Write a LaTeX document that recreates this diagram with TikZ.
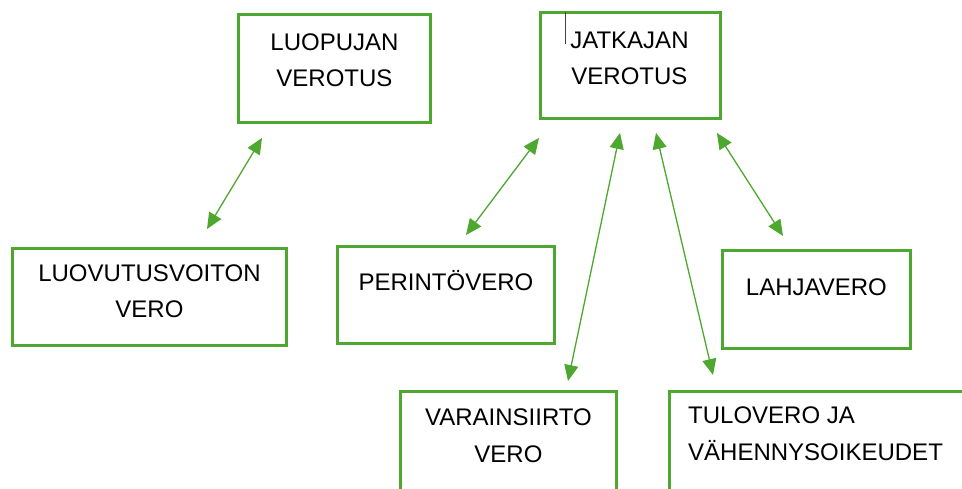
\documentclass[tikz,border=0pt]{standalone}
\usepackage{fontspec}
\setmainfont{Liberation Sans}
\usetikzlibrary{arrows.meta, positioning}

\definecolor{taxgreen}{RGB}{78,167,46}

\begin{document}
\begin{tikzpicture}[x=1pt,y=-1pt,
		box/.style = {draw=taxgreen, line width=2.9pt, anchor=north west, inner sep=0pt},
		txt/.style = {font=\fontsize{24}{36.5}\selectfont, align=center, inner sep=0pt},
		link/.style = {taxgreen, line width=1.3pt, {Triangle[length=16pt,width=14pt]}-{Triangle[length=16pt,width=14pt]}}]
		\useasboundingbox (0,0) rectangle (962,488);
		\clip (0,0) rectangle (962,488);
		% boxes
		\node [box, minimum width=192pt, minimum height=108pt] (luopujan) at (237,13) {};
		\node [box, minimum width=180pt, minimum height=106pt] (jatkajan) at (539,11) {};
		\node [box, minimum width=274pt, minimum height=97pt] (luovutus) at (11,247) {};
		\node [box, minimum width=217pt, minimum height=97pt] (perinto) at (336,245) {};
		\node [box, minimum width=188pt, minimum height=98pt] (lahja) at (721,249) {};
		\node [box, minimum width=216pt, minimum height=120pt] (varainsiirto) at (399,390) {};
		\node [box, minimum width=320pt, minimum height=120pt] (tulovero) at (668,390) {};
		% texts
		\node [txt, below=20.5pt of luopujan.north] (luopujan-t) {LUOPUJAN\\VEROTUS};
		\node [txt, below=20.4pt of jatkajan.north, xshift=-1pt] (jatkajan-t) {JATKAJAN\\VEROTUS};
		\node [txt, below=17.4pt of luovutus.north] (luovutus-t) {LUOVUTUSVOITON\\VERO};
		\node [txt, below=25pt of perinto.north] (perinto-t) {PERINTÖVERO};
		\node [txt, below=29.4pt of lahja.north] (lahja-t) {LAHJAVERO};
		\node [txt, below=19pt of varainsiirto.north] (varainsiirto-t) {VARAINSIIRTO\\VERO};
		\node [txt, align=left, anchor=north west] (tulovero-t) at ([shift={(20,17)}]tulovero.north west) {TULOVERO JA\\VÄHENNYSOIKEUDET};
		% cursor mark
		\draw [black!75, line width=0.8pt] ([shift={(26,1)}]jatkajan.north west) coordinate (cur-a) -- ++(0,32) coordinate (cur-b);
		% links
		\draw [link] ([shift={(25,14)}]luopujan.south west) -- ([shift={(196,-18)}]luovutus.north west);
		\draw [link] ([shift={(0,18)}]jatkajan.south west) -- ([shift={(130,-10)}]perinto.north west);
		\draw [link] ([shift={(81,13)}]jatkajan.south west) -- ([shift={(169,-9)}]varainsiirto.north west);
		\draw [link] ([shift={(117,13)}]jatkajan.south west) -- ([shift={(45,-15)}]tulovero.north west);
		\draw [link] ([shift={(-5,13)}]jatkajan.south east) -- ([shift={(62,-13)}]lahja.north west);
	\end{tikzpicture}
\end{document}
